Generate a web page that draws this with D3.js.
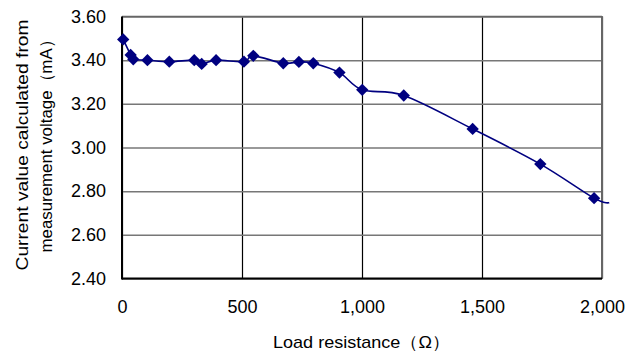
<!DOCTYPE html>
<html>
<head>
<meta charset="utf-8">
<script src="https://cdn.jsdelivr.net/npm/d3@7"></script>
<style>
  body { margin: 0; background: #fff; }
  text { font-family: "Liberation Sans", Arial, sans-serif; fill: #000; }
</style>
</head>
<body>
<script>
// load resistance (ohm) and current (mA)
var resistance = [5, 36, 47, 106, 197, 301, 332, 392, 508, 547, 672, 737, 797, 906, 1001, 1174, 1461, 1743, 1967];
var current = [3.495, 3.424, 3.404, 3.40, 3.393, 3.40, 3.383, 3.40, 3.393, 3.42, 3.386, 3.392, 3.386, 3.343, 3.264, 3.238, 3.085, 2.924, 2.768];
// the curve runs on a little past the last marker
var tailResistance = 2030;
var tailCurrent = 2.748;

var xTicks = [0, 500, 1000, 1500, 2000];
var yTicks = [2.40, 2.60, 2.80, 3.00, 3.20, 3.40, 3.60];

var margin = { top: 16.5, right: 36, bottom: 73.5, left: 122 },
  width = 638 - margin.left - margin.right,
  height = 352 - margin.top - margin.bottom;

var svg = d3.select("body").append("svg")
  .attr("width", 638)
  .attr("height", 352)
  .append("g")
  .attr("transform", "translate(" + margin.left + "," + margin.top + ")");

var x = d3.scaleLinear().domain([0, 2000]).range([0, width]);
var y = d3.scaleLinear().domain([2.40, 3.60]).range([height, 0]);

// gridlines
svg.append("g")
  .attr("transform", "translate(0," + height + ")")
  .call(d3.axisBottom(x).tickValues(xTicks).tickSize(-height).tickFormat(""))
  .call(function(g) {
    g.select(".domain").remove();
    g.selectAll("line").attr("stroke", "#000").attr("stroke-width", 1.2);
  });
svg.append("g")
  .call(d3.axisLeft(y).tickValues(yTicks).tickSize(-width).tickFormat(""))
  .call(function(g) {
    g.select(".domain").remove();
    g.selectAll("line").attr("stroke", "#777").attr("stroke-width", 1.5);
  });

// plot border: top/right grey, left/bottom black
svg.append("line").attr("x1", 0).attr("x2", width).attr("y1", 0).attr("y2", 0)
  .attr("stroke", "#666").attr("stroke-width", 1.5);
svg.append("line").attr("x1", width).attr("x2", width).attr("y1", 0).attr("y2", height)
  .attr("stroke", "#666").attr("stroke-width", 2);
svg.append("line").attr("x1", 0).attr("x2", 0).attr("y1", 0).attr("y2", height + 1)
  .attr("stroke", "#000").attr("stroke-width", 2);
svg.append("line").attr("x1", 0).attr("x2", width).attr("y1", height).attr("y2", height)
  .attr("stroke", "#000").attr("stroke-width", 2);

// tick labels
var fmtX = d3.format(",");
svg.append("g")
  .attr("transform", "translate(0," + height + ")")
  .call(d3.axisBottom(x).tickValues(xTicks).tickSize(0).tickPadding(22).tickFormat(fmtX))
  .call(function(g) {
    g.select(".domain").remove();
    g.selectAll("text").style("font-size", "18px").style("font-family", null);
  });
svg.append("g")
  .call(d3.axisLeft(y).tickValues(yTicks).tickSize(0).tickPadding(16).tickFormat(d3.format(".2f")))
  .call(function(g) {
    g.select(".domain").remove();
    g.selectAll("text").style("font-size", "18px").style("font-family", null);
  });

// data
var pts = resistance.map(function(r, i) { return { r: r, c: current[i] }; });
var linePts = pts.concat([{ r: tailResistance, c: tailCurrent }]);

var line = d3.line()
  .curve(d3.curveCardinal.tension(0))
  .x(function(d) { return x(d.r); })
  .y(function(d) { return y(d.c); });

svg.append("path")
  .datum(linePts)
  .attr("fill", "none")
  .attr("stroke", "#000080")
  .attr("stroke-width", 1.6)
  .attr("d", line);

var diamond = d3.symbol().type(d3.symbolSquare).size(76);
svg.selectAll(".pt")
  .data(pts)
  .enter().append("path")
  .attr("class", "pt")
  .attr("d", diamond)
  .attr("fill", "#000080")
  .attr("transform", function(d) {
    return "translate(" + x(d.r) + "," + y(d.c) + ") rotate(45)";
  });

// axis titles
d3.select("svg").append("text")
  .attr("x", 273).attr("y", 348)
  .attr("textLength", 177).attr("lengthAdjust", "spacingAndGlyphs")
  .style("font-size", "17px")
  .text("Load resistance（Ω）");

var yTitle = d3.select("svg").append("g")
  .attr("transform", "translate(28,145) rotate(-90)");
yTitle.append("text")
  .attr("text-anchor", "middle")
  .attr("textLength", 251).attr("lengthAdjust", "spacingAndGlyphs")
  .style("font-size", "17px")
  .text("Current value calculated from");
yTitle.append("text")
  .attr("text-anchor", "middle")
  .attr("x", 3).attr("y", 24)
  .attr("textLength", 221).attr("lengthAdjust", "spacingAndGlyphs")
  .style("font-size", "17px")
  .text("measurement voltage（mA）");
</script>
</body>
</html>
